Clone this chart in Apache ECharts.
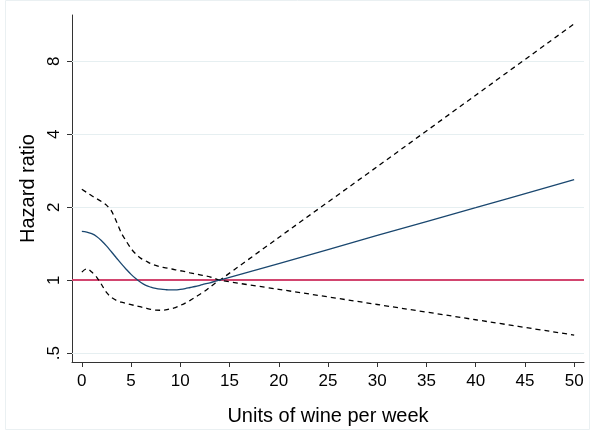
<!DOCTYPE html>
<html>
<head>
<meta charset="utf-8">
<script src="https://cdn.jsdelivr.net/npm/echarts@6/dist/echarts.min.js"></script>
<style>
  html, body { margin: 0; padding: 0; background: #fff; }
  #chart { width: 591px; height: 431px; }
</style>
</head>
<body>
<div id="chart"></div>
<script>
// 数据：横轴为每周葡萄酒单位数，纵轴为风险比（对数刻度）
var units = [0, 0.5, 1, 1.5, 2, 2.5, 3, 3.5, 4, 4.5, 5, 5.5, 6, 6.5, 7, 7.5, 8, 8.5, 9, 9.5, 10,
    10.5, 11, 11.5, 12, 12.5, 13, 13.5, 14, 20, 30, 40, 50];
var hazard = [1.59, 1.58, 1.555, 1.515, 1.455, 1.385, 1.31, 1.238, 1.17, 1.11, 1.057, 1.013, 0.978, 0.952, 0.936, 0.925, 0.918, 0.914, 0.912, 0.912, 0.917,
    0.924, 0.933, 0.942, 0.953, 0.965, 0.976, 0.988, 1.0, 1.17, 1.53, 1.99, 2.6];
var ciA = [2.37, 2.30, 2.23, 2.17, 2.11, 2.04, 1.93, 1.75, 1.57, 1.45, 1.35, 1.28, 1.23, 1.20, 1.17, 1.15, 1.135, 1.125, 1.115, 1.104, 1.094,
    1.084, 1.073, 1.063, 1.053, 1.043, 1.033, 1.017, 1.0, 0.917, 0.794, 0.687, 0.594];
var ciB = [1.08, 1.115, 1.08, 1.03, 0.96, 0.89, 0.85, 0.826, 0.812, 0.803, 0.793, 0.784, 0.776, 0.767, 0.758, 0.753, 0.752, 0.754, 0.762, 0.771, 0.787,
    0.805, 0.826, 0.85, 0.875, 0.902, 0.935, 0.97, 1.0, 1.5, 2.94, 5.79, 11.4];
var xTicks = [0, 5, 10, 15, 20, 25, 30, 35, 40, 45, 50];
var yTicks = [0.5, 1, 2, 4, 8];
var yTickLabels = ['.5', '1', '2', '4', '8'];
var refValue = 1;

function pairs(ys) {
    return units.map(function (x, i) { return [x, ys[i]]; });
}

var chart = echarts.init(document.getElementById('chart'));

var option = {
    animation: false,
    backgroundColor: '#fff',
    textStyle: { fontFamily: 'Liberation Sans, Arial, sans-serif' },
    graphic: [{
        type: 'rect',
        shape: { x: 5.5, y: 0.5, width: 584, height: 429 },
        style: { fill: 'none', stroke: '#eaf0f2', lineWidth: 1 },
        z: -10
    }],
    grid: { left: 72, right: 7, top: 15, bottom: 68 },
    xAxis: {
        type: 'value',
        min: -1,
        max: 51,
        name: 'Units of wine per week',
        nameLocation: 'middle',
        nameGap: 44,
        nameTextStyle: { fontSize: 20, color: '#000' },
        axisLine: { show: true, onZero: false, lineStyle: { color: '#333', width: 1 } },
        axisTick: { show: true, customValues: xTicks, length: 5, lineStyle: { color: '#333' } },
        axisLabel: { customValues: xTicks, fontSize: 17, color: '#000', margin: 11 },
        splitLine: { show: false }
    },
    yAxis: {
        type: 'log',
        logBase: 2,
        min: 0.46,
        max: 12.4,
        name: 'Hazard ratio',
        nameLocation: 'middle',
        nameGap: 31,
        nameTextStyle: { fontSize: 20, color: '#000' },
        axisLine: { show: true, onZero: false, lineStyle: { color: '#333', width: 1 } },
        axisTick: { show: true, customValues: yTicks, length: 5, lineStyle: { color: '#333' } },
        axisLabel: {
            customValues: yTicks,
            rotate: 90,
            fontSize: 17,
            color: '#000',
            margin: 9,
            formatter: function (v) {
                var i = yTicks.indexOf(+v);
                return i >= 0 ? yTickLabels[i] : '';
            }
        },
        splitLine: { show: false }
    },
    series: [
        {
            // 网格线和参考线
            type: 'line',
            data: [],
            silent: true,
            z: 1,
            markLine: {
                symbol: 'none',
                silent: true,
                z: 1,
                label: { show: false },
                data: yTicks.filter(function (v) { return v !== refValue; }).map(function (v) {
                    return { yAxis: v, lineStyle: { color: '#e6eff1', width: 1, type: 'solid' } };
                }).concat([{ yAxis: refValue, lineStyle: { color: '#d2456f', width: 2, type: 'solid' } }])
            }
        },
        {
            name: 'Hazard ratio',
            type: 'line',
            data: pairs(hazard),
            smooth: 0.4,
            showSymbol: false,
            lineStyle: { color: '#1a476f', width: 1.3 },
            z: 3
        },
        {
            name: 'CI upper-left',
            type: 'line',
            data: pairs(ciA),
            smooth: 0.3,
            showSymbol: false,
            lineStyle: { color: '#000', width: 1.3, type: [5, 4] },
            z: 2
        },
        {
            name: 'CI lower-left',
            type: 'line',
            data: pairs(ciB),
            smooth: 0.3,
            showSymbol: false,
            lineStyle: { color: '#000', width: 1.3, type: [5, 4] },
            z: 2
        }
    ]
};

chart.setOption(option);
</script>
</body>
</html>
